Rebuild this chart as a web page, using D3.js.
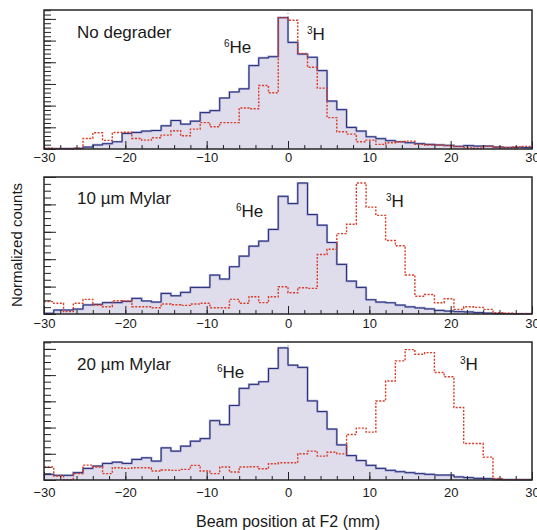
<!DOCTYPE html>
<html>
<head>
<meta charset="utf-8">
<script src="https://cdn.jsdelivr.net/npm/d3@7"></script>
<style>
	body { margin: 0; background: #fff; }
	svg { display: block; font-family: "Liberation Sans", Arial, sans-serif; }
</style>
</head>
<body>
<div id="chart"></div>
<script>
// histogram binning along the beam position axis (mm)
const xDomain = [-30, 30];
const binWidth = 1.2;
const xTickLabels = [-30, -20, -10, 0, 10, 20, 30];

const panelLabels = ['No degrader', '10 \u00b5m Mylar', '20 \u00b5m Mylar'];

// normalized counts per bin, 6He (filled) and 3H (dashed)
const he6NoDegrader = [0.003, 0.003, 0.003, 0.004, 0.014, 0.029, 0.038, 0.052, 0.112, 0.119,
	0.129, 0.133, 0.167, 0.205, 0.179, 0.200, 0.262, 0.276, 0.367, 0.410,
	0.433, 0.600, 0.655, 0.664, 0.945, 0.767, 0.683, 0.660, 0.564, 0.345,
	0.283, 0.155, 0.129, 0.088, 0.074, 0.060, 0.052, 0.045, 0.038, 0.033,
	0.029, 0.026, 0.019, 0.024, 0.021, 0.021, 0.014, 0.010, 0.012, 0.010];
const h3NoDegrader = [0.005, 0.003, 0.002, 0.005, 0.076, 0.117, 0.062, 0.119, 0.121, 0.076,
	0.064, 0.081, 0.100, 0.131, 0.095, 0.143, 0.190, 0.160, 0.190, 0.190,
	0.295, 0.290, 0.457, 0.405, 0.945, 0.926, 0.688, 0.588, 0.438, 0.226,
	0.124, 0.107, 0.052, 0.064, 0.033, 0.045, 0.052, 0.057, 0.033, 0.029,
	0.029, 0.024, 0.017, 0.010, 0.005, 0.019, 0.014, 0.012, 0.014, 0.019];

const he6Mylar10 = [0.005, 0.029, 0.029, 0.036, 0.066, 0.070, 0.083, 0.083, 0.092, 0.114,
	0.095, 0.087, 0.150, 0.133, 0.158, 0.194, 0.194, 0.284, 0.255, 0.345,
	0.422, 0.495, 0.532, 0.617, 0.859, 0.806, 0.956, 0.726, 0.648, 0.522,
	0.362, 0.240, 0.194, 0.104, 0.087, 0.082, 0.065, 0.052, 0.044, 0.037,
	0.026, 0.021, 0.017, 0.015, 0.010, 0.006, 0.003, 0.002, 0.002, 0.002];
const h3Mylar10 = [0.090, 0.078, 0.017, 0.078, 0.107, 0.066, 0.053, 0.097, 0.095, 0.053,
	0.053, 0.046, 0.073, 0.068, 0.063, 0.073, 0.078, 0.046, 0.046, 0.107,
	0.078, 0.126, 0.083, 0.126, 0.199, 0.155, 0.192, 0.187, 0.434, 0.473,
	0.587, 0.655, 0.956, 0.780, 0.720, 0.536, 0.498, 0.285, 0.130, 0.142,
	0.082, 0.111, 0.034, 0.053, 0.048, 0.034, 0.010, 0.005, 0.002, 0.002];

const he6Mylar20 = [0.041, 0.034, 0.034, 0.053, 0.084, 0.101, 0.120, 0.129, 0.120, 0.149,
	0.161, 0.137, 0.233, 0.209, 0.245, 0.281, 0.300, 0.430, 0.401, 0.540,
	0.664, 0.693, 0.712, 0.808, 0.957, 0.832, 0.816, 0.573, 0.496, 0.369,
	0.254, 0.177, 0.141, 0.106, 0.084, 0.070, 0.060, 0.053, 0.046, 0.041,
	0.036, 0.036, 0.022, 0.017, 0.012, 0.010, 0.005, 0.003, 0.002, 0.002];
const h3Mylar20 = [0.094, 0.029, 0.002, 0.046, 0.108, 0.094, 0.046, 0.089, 0.084, 0.089,
	0.089, 0.065, 0.072, 0.070, 0.077, 0.106, 0.065, 0.046, 0.094, 0.058,
	0.094, 0.096, 0.082, 0.118, 0.125, 0.125, 0.190, 0.209, 0.173, 0.201,
	0.189, 0.330, 0.376, 0.347, 0.573, 0.717, 0.863, 0.945, 0.911, 0.923,
	0.779, 0.748, 0.525, 0.264, 0.264, 0.166, 0.012, 0.003, 0.003, 0.003];

const he6Series = [he6NoDegrader, he6Mylar10, he6Mylar20];
const h3Series = [h3NoDegrader, h3Mylar10, h3Mylar20];

// layout of each pad (pixels)
const width = 537, height = 530;
const plotLeft = 44, plotRight = 532;
const pads = [
	{top: 10, bottom: 149, yStep: 0.156, yMinor: 5, labelPad: 4, text: [77, 38], he: [224, 53], h: [307, 40], zeroLine: true},
	{top: 177, bottom: 314, yStep: 0.2, yMinor: 4, labelPad: 5, text: [77, 204], he: [236, 217], h: [386, 207], zeroLine: false},
	{top: 342, bottom: 480, yStep: 0.19, yMinor: 4, labelPad: 8, text: [77, 370], he: [217, 378], h: [460, 370], zeroLine: true}
];

const svg = d3.select('#chart').append('svg')
	.attr('width', width)
	.attr('height', height);

const x = d3.scaleLinear().domain(xDomain).range([plotLeft, plotRight]);
const nBins = Math.round((xDomain[1] - xDomain[0]) / binWidth);
const edges = d3.range(nBins + 1).map((i)=>xDomain[0] + i * binWidth);

function stepPoints(values) {
	// repeat the last value so the step reaches the right edge
	return edges.map((e, i)=>[e, values[Math.min(i, values.length - 1)]]);
}

function label(g, pos, sup, main) {
	const t = g.append('text')
		.attr('x', pos[0])
		.attr('y', pos[1])
		.attr('font-size', 17)
		.attr('fill', '#1a1a1a');
	t.append('tspan').attr('font-size', 10).attr('dy', -6).text(sup);
	t.append('tspan').attr('dy', 6).text(main);
}

pads.forEach(function(pad, p) {
	const y = d3.scaleLinear().domain([0, 1]).range([pad.bottom, pad.top]);
	const g = svg.append('g');

	const area = d3.area()
		.curve(d3.curveStepAfter)
		.x((d)=>x(d[0]))
		.y0(y(0))
		.y1((d)=>y(d[1]));
	const line = d3.line()
		.curve(d3.curveStepAfter)
		.x((d)=>x(d[0]))
		.y((d)=>y(d[1]));

	if(pad.zeroLine) {
		g.append('line')
			.attr('x1', x(0)).attr('x2', x(0))
			.attr('y1', pad.top).attr('y2', pad.bottom)
			.attr('stroke', '#888')
			.attr('stroke-width', 1)
			.attr('stroke-dasharray', '1,2');
	}

	const he6 = stepPoints(he6Series[p]);
	g.append('path')
		.attr('d', area(he6))
		.attr('fill', '#dfdcec');
	g.append('path')
		.attr('d', line(he6))
		.attr('fill', 'none')
		.attr('stroke', '#a6a8d0')
		.attr('stroke-width', 2.2);
	g.append('path')
		.attr('d', line(he6))
		.attr('fill', 'none')
		.attr('stroke', '#262d7a')
		.attr('stroke-width', 1);

	g.append('path')
		.attr('d', line(stepPoints(h3Series[p])))
		.attr('fill', 'none')
		.attr('stroke', '#dc3b26')
		.attr('stroke-width', 1.4)
		.attr('stroke-dasharray', '2,1.5');

	// y ticks, inward from the left frame
	const yMajor = d3.range(0, 1.0001, pad.yStep);
	const yMinorVals = d3.range(0, 1.0001, pad.yStep / pad.yMinor);
	g.append('g')
		.attr('transform', `translate(${plotLeft},0)`)
		.call(d3.axisRight(y).tickValues(yMinorVals).tickSize(7).tickFormat(''))
		.call((a)=>a.select('.domain').remove());
	g.append('g')
		.attr('transform', `translate(${plotLeft},0)`)
		.call(d3.axisRight(y).tickValues(yMajor).tickSize(12).tickFormat(''))
		.call((a)=>a.select('.domain').remove());

	// x ticks, inward from the bottom frame
	g.append('g')
		.attr('transform', `translate(0,${pad.bottom})`)
		.call(d3.axisBottom(x).tickValues(d3.range(-30, 30.001, 2)).tickSizeInner(-4).tickSizeOuter(0).tickFormat(''))
		.call((a)=>a.select('.domain').remove());
	g.append('g')
		.attr('transform', `translate(0,${pad.bottom})`)
		.call(d3.axisBottom(x).tickValues(xTickLabels).tickSizeInner(-8).tickSizeOuter(0).tickPadding(pad.labelPad))
		.call((a)=>a.select('.domain').remove())
		.call((a)=>a.selectAll('text').attr('font-size', 13).attr('fill', '#1a1a1a').attr('font-family', null));

	g.selectAll('.tick line').attr('stroke', '#222');

	g.append('rect')
		.attr('x', plotLeft)
		.attr('y', pad.top)
		.attr('width', plotRight - plotLeft)
		.attr('height', pad.bottom - pad.top)
		.attr('fill', 'none')
		.attr('stroke', '#262626')
		.attr('stroke-width', 1.5);

	g.append('text')
		.attr('x', pad.text[0])
		.attr('y', pad.text[1])
		.attr('font-size', 17)
		.attr('fill', '#1a1a1a')
		.text(panelLabels[p]);

	label(g, pad.he, '6', 'He');
	label(g, pad.h, '3', 'H');
});

svg.append('text')
	.attr('x', 288)
	.attr('y', 527)
	.attr('text-anchor', 'middle')
	.attr('font-size', 16)
	.attr('fill', '#1a1a1a')
	.text('Beam position at F2 (mm)');

svg.append('text')
	.attr('transform', 'translate(22,245) rotate(-90)')
	.attr('text-anchor', 'middle')
	.attr('font-size', 15)
	.attr('fill', '#1a1a1a')
	.text('Normalized counts');
</script>
</body>
</html>
